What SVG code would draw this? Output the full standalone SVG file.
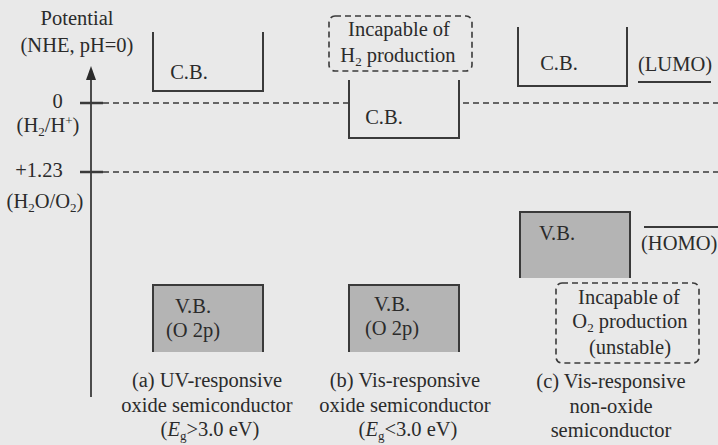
<svg xmlns="http://www.w3.org/2000/svg" width="718" height="445" viewBox="0 0 718 445" font-family="'Liberation Serif', 'DejaVu Serif', serif">
<style>
text{font-family:'Liberation Serif','DejaVu Serif',serif;font-size:20.5px;fill:#2b2b2b}
.c{text-anchor:middle}
.sub{font-size:13px}
.band{fill:none;stroke:#3a3a3a;stroke-width:2}
.vb{fill:#b4b4b4}
.lvl{stroke:#3a3a3a;stroke-width:1.6;stroke-dasharray:6 4;fill:none}
.note{fill:none;stroke:#3a3a3a;stroke-width:1.6;stroke-dasharray:6 4}
.tick{stroke:#3a3a3a;stroke-width:2.5}
</style>
<rect width="718" height="445" fill="#e9e9e9"/>

<g id="connectors">
<line x1="91" y1="397" x2="91" y2="80" stroke="#3a3a3a" stroke-width="1.8"/>
<path d="M91,66 L96,80 L86,80 Z" fill="#2b2b2b"/>
<line class="tick" x1="80" y1="103" x2="103" y2="103"/>
<line class="tick" x1="80" y1="172" x2="103" y2="172"/>
<line class="lvl" x1="103" y1="103" x2="718" y2="103"/>
<line class="lvl" x1="103" y1="172" x2="718" y2="172"/>
</g>

<g id="axis-labels">
<text class="c" x="77" y="25">Potential</text>
<text class="c" x="77" y="52">(NHE, pH=0)</text>
<text class="c" x="57.5" y="108">0</text>
<text class="c" x="48" y="132">(H<tspan class="sub" dy="4">2</tspan><tspan dy="-4">/H</tspan><tspan class="sub" dy="-7">+</tspan><tspan dy="7">)</tspan></text>
<text class="c" x="39" y="177">+1.23</text>
<text class="c" x="45" y="208">(H<tspan class="sub" dy="4">2</tspan><tspan dy="-4">O/O</tspan><tspan class="sub" dy="4">2</tspan><tspan dy="-4">)</tspan></text>
</g>

<g id="a-cb">
<path class="band" d="M153,32 V91 H263 V32"/>
<text class="c" x="189" y="79">C.B.</text>
</g>
<g id="a-vb">
<rect class="vb" x="153" y="285" width="110" height="67"/>
<path class="band" d="M153,352 V285 H263 V352"/>
<text class="c" x="193" y="313">V.B.</text>
<text class="c" x="193" y="337">(O 2p)</text>
</g>
<g id="a-caption">
<text class="c" x="207" y="387">(a) UV-responsive</text>
<text class="c" x="207" y="412">oxide semiconductor</text>
<text class="c" x="210" y="436">(<tspan font-style="italic">E</tspan><tspan class="sub" dy="4">g</tspan><tspan dy="-4">&gt;3.0 eV)</tspan></text>
</g>

<g id="b-note">
<rect class="note" x="329" y="16" width="143" height="55" rx="6"/>
<text class="c" x="399" y="36">Incapable of</text>
<text class="c" x="398" y="62">H<tspan class="sub" dy="4">2</tspan><tspan dy="-4"> production</tspan></text>
</g>
<g id="b-cb">
<path d="M349,80 V138 H459 V80" fill="#e9e9e9" stroke="none"/>
<path class="band" d="M349,80 V138 H459 V80"/>
<text class="c" x="384" y="124">C.B.</text>
</g>
<g id="b-vb">
<rect class="vb" x="349" y="285" width="110" height="67"/>
<path class="band" d="M349,352 V285 H459 V352"/>
<text class="c" x="392" y="311">V.B.</text>
<text class="c" x="392" y="335">(O 2p)</text>
</g>
<g id="b-caption">
<text class="c" x="405" y="387">(b) Vis-responsive</text>
<text class="c" x="405" y="412">oxide semiconductor</text>
<text class="c" x="408" y="436">(<tspan font-style="italic">E</tspan><tspan class="sub" dy="4">g</tspan><tspan dy="-4">&lt;3.0 eV)</tspan></text>
</g>

<g id="c-cb">
<path class="band" d="M518,27 V86 H627 V27"/>
<text class="c" x="559" y="70">C.B.</text>
</g>
<g id="c-lumo">
<text x="638" y="71">(LUMO)</text>
<line x1="638" y1="82" x2="711" y2="82" stroke="#3a3a3a" stroke-width="2"/>
</g>
<g id="c-vb">
<rect class="vb" x="520" y="212" width="110" height="66"/>
<path class="band" d="M520,278 V212 H630 V278"/>
<text class="c" x="557" y="240">V.B.</text>
</g>
<g id="c-homo">
<line x1="644" y1="227" x2="718" y2="227" stroke="#3a3a3a" stroke-width="2"/>
<text x="641" y="250">(HOMO)</text>
</g>
<g id="c-note">
<rect class="note" x="556" y="283" width="143" height="80" rx="6"/>
<text class="c" x="629" y="304">Incapable of</text>
<text class="c" x="630" y="328">O<tspan class="sub" dy="4">2</tspan><tspan dy="-4"> production</tspan></text>
<text class="c" x="630" y="354">(unstable)</text>
</g>
<g id="c-caption">
<text class="c" x="611" y="388">(c) Vis-responsive</text>
<text class="c" x="611" y="413">non-oxide</text>
<text class="c" x="611" y="437">semiconductor</text>
</g>
</svg>
